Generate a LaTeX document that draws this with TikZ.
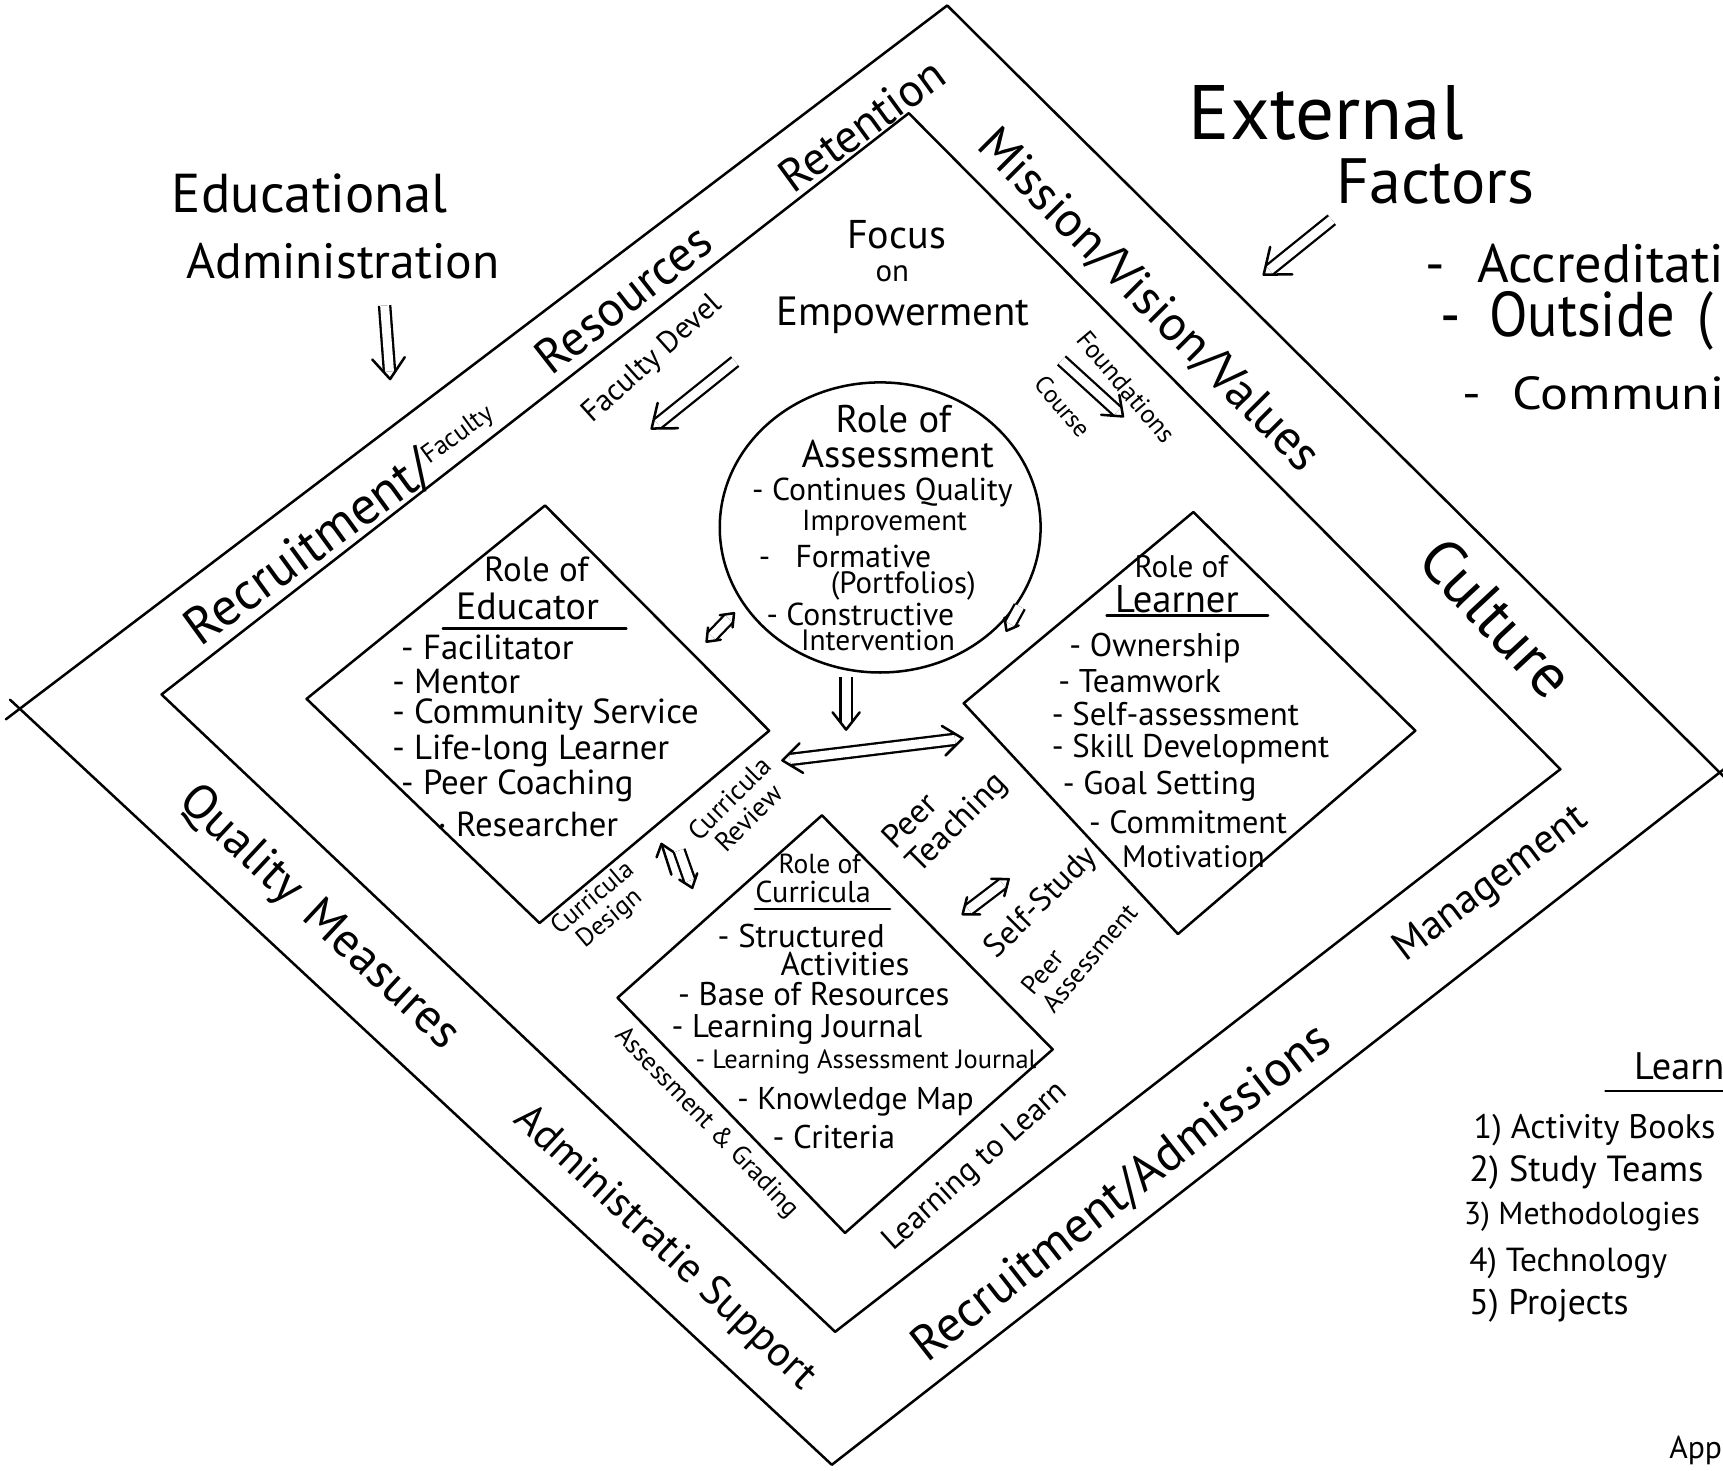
\documentclass[tikz,border=0pt]{standalone}
\usepackage{fontspec}
\setmainfont{PT Sans}
\usetikzlibrary{arrows.meta,calc,shapes.geometric}
\newsavebox\fbx
\newcommand\ft[3]{\sbox\fbx{\fontsize{#2}{#2}\selectfont #3}\ifdim\wd\fbx>#1mm\relax\resizebox{#1mm}{!}{\usebox\fbx}\else\usebox\fbx\fi}
\newcommand\tc[1]{\begin{tabular}{@{}c@{}}#1\end{tabular}}
\newcommand\tl[1]{\begin{tabular}{@{}l@{}}#1\end{tabular}}
% double-line arrow: from, to, head length
\newcommand\darr[3]{%
  \draw[double distance=2.3pt,line width=0.6pt,line cap=butt] (#1) -- ($(#2)!0.7mm!(#1)$);
  \draw ($(#2)!#3!38:(#1)$) -- (#2) -- ($(#2)!#3!-38:(#1)$);}
\newcommand\darrb[3]{%
  \draw[double distance=2.3pt,line width=0.6pt,line cap=butt] ($(#1)!0.7mm!(#2)$) -- ($(#2)!0.7mm!(#1)$);
  \draw ($(#2)!#3!38:(#1)$) -- (#2) -- ($(#2)!#3!-38:(#1)$);
  \draw ($(#1)!#3!38:(#2)$) -- (#1) -- ($(#1)!#3!-38:(#2)$);}
\begin{document}
\begin{tikzpicture}[x=0.1mm,y=-0.1mm,line width=0.65pt,line cap=round,line join=round]
\tikzset{
  lbl/.style={inner sep=0pt,anchor=center},
  itm/.style={inner sep=0pt,anchor=west},
}
\useasboundingbox (0,0) rectangle (1568,1338);
\fill[white] (0,0) rectangle (1568,1338);

% outer ring
\coordinate (T1) at (862,5);
\coordinate (R1) at (1565,703);
\coordinate (B1) at (757,1333);
\coordinate (L1) at (18,645);
\draw (T1) -- (R1) -- (B1) -- (L1) -- cycle;
\draw (L1) -- ($(T1)!1.015!(L1)$);
\draw (L1) -- ($(B1)!1.012!(L1)$);
\draw (R1) -- ($(T1)!1.01!(R1)$);
\draw (R1) -- ($(B1)!1.01!(R1)$);

% middle ring
\coordinate (T2) at (827,103);
\coordinate (R2) at (1420,700);
\coordinate (B2) at (760,1212);
\coordinate (L2) at (147,632);
\draw (T2) -- (R2) -- (B2) -- (L2) -- cycle;

% inner diamonds
\coordinate (ET) at (496,460);
\coordinate (ER) at (700,665);
\coordinate (EB) at (491,840);
\coordinate (EL) at (279,636);
\draw (ET) -- (ER) -- (EB) -- (EL) -- cycle;
\coordinate (LT) at (1086,466);
\coordinate (LR) at (1288,665);
\coordinate (LB) at (1072,850);
\coordinate (LL) at (877,640);
\draw (LT) -- (LR) -- (LB) -- (LL) -- cycle;
\coordinate (CT) at (748,742);
\coordinate (CR) at (958,955);
\coordinate (CB) at (769,1122);
\coordinate (CL) at (562,908);
\draw (CT) -- (CR) -- (CB) -- (CL) -- cycle;

% assessment circle
\node[draw,ellipse,minimum width=29.2mm,minimum height=26.4mm,inner sep=0pt] (circ) at (801,480) {};

% band labels
\node[lbl,rotate=36] (ret) at (784,114) {\ft{17.5}{16}{Retention}};
\node[lbl,rotate=36] (rec) at (312,478) {\ft{34}{16}{Recruitment/\raisebox{0.5ex}{\scalebox{0.5}{Faculty}}}};
\node[lbl,rotate=38] (res) at (567,272) {\ft{19}{16}{Resources}};
\node[lbl,rotate=-45] (mis) at (1045,274) {\ft{42}{16}{Mission/Vision/Values}};
\node[lbl,rotate=-47] (cul) at (1362,562) {\ft{19}{16}{Culture}};
\node[lbl,rotate=37] (man) at (1357,805) {\ft{21}{16}{Management}};
\node[lbl,rotate=38] (adm) at (1021,1086) {\ft{47}{16}{Recruitment/Admissions}};
\node[lbl,rotate=-43] (qua) at (290,836) {\ft{33}{16}{Quality\hspace{0.4em}Measures}};
\node[lbl,rotate=-43] (sup) at (605,1136) {\ft{36}{16}{Administratie Support}};

% focus
\node[lbl] (foc) at (816,214) {\ft{9}{12}{Focus}};
\node[lbl] (on) at (812,249) {\ft{3.4}{8}{on}};
\node[lbl] (emp) at (822,287) {\ft{23}{13}{Empowerment}};
\node[lbl,rotate=42] (fd) at (594,327) {\ft{16}{9}{Faculty Devel}};
\node[lbl,rotate=-50] (fo) at (1025,352) {\ft{12.5}{8}{Foundations}};
\node[lbl,rotate=-50] (co) at (967,370) {\ft{6.5}{8}{Course}};

% circle text
\node[lbl] (a1) at (813,381) {\ft{10.5}{11}{Role of}};
\node[lbl] (a2) at (817,413) {\ft{17.5}{11}{Assessment}};
\node[lbl] (a3) at (803,448) {\ft{24}{8.2}{- Continues Quality}};
\node[lbl] (a4) at (805,476) {\ft{15}{8.2}{Improvement}};
\node[lbl] (a5) at (769,506) {\ft{18}{8.2}{-\hspace{0.8em}Formative}};
\node[lbl] (a6) at (822,533) {\ft{15}{8}{(Portfolios)}};
\node[lbl] (a7) at (783,559) {\ft{19}{8.2}{- Constructive}};
\node[lbl] (a8) at (799,583) {\ft{14}{8}{Intervention}};

% educator
\node[lbl] (e1) at (488,518) {\ft{9.5}{10}{Role of}};
\node[lbl] (e2) at (480,552) {\ft{13}{10}{Educator}};
\draw (403,572) -- (570,572);
\node[itm] (e3) at (364,589) {\ft{18}{9}{- Facilitator}};
\node[itm] (e4) at (356,620) {\ft{13.5}{9}{- Mentor}};
\node[itm] (e5) at (356,650) {\ft{28.5}{9}{- Community Service}};
\node[itm] (e6) at (356,683) {\ft{27}{9}{- Life-long Learner}};
\node[itm] (e7) at (364,715) {\ft{22}{9}{- Peer Coaching}};
\node[itm] (e8) at (397,750) {\ft{18}{9}{· Researcher}};

% learner
\node[lbl] (l1) at (1075,516) {\ft{8.5}{8.5}{Role of}};
\node[lbl] (l2) at (1071,545) {\ft{11.5}{10}{Learner}};
\draw (1007,560) -- (1154,560);
\node[itm] (l3) at (972,590) {\ft{16.5}{8.5}{- Ownership}};
\node[itm] (l4) at (962,620) {\ft{16.5}{8.5}{- Teamwork}};
\node[itm] (l5) at (956,650) {\ft{23.5}{8.5}{- Self-assessment}};
\node[itm] (l6) at (956,682) {\ft{25.5}{8.5}{- Skill Development}};
\node[itm] (l7) at (966,716) {\ft{20}{8.5}{- Goal Setting}};
\node[itm] (l8) at (990,748) {\ft{18}{8.5}{- Commitment}};
\node[itm] (l9) at (1020,780) {\ft{13}{8.5}{Motivation}};

% curricula
\node[lbl] (c1) at (746,786) {\ft{7.5}{8}{Role of}};
\node[lbl] (c2) at (740,812) {\ft{10.5}{8.5}{Curricula}};
\draw (687,827) -- (810,827);
\node[itm] (c3) at (652,852) {\ft{17}{8.5}{- Structured}};
\node[lbl] (c4) at (769,877) {\ft{12.5}{8.5}{Activities}};
\node[itm] (c5) at (616,905) {\ft{26}{8.5}{- Base of Resources}};
\node[itm] (c6) at (610,937) {\ft{25.5}{8.5}{- Learning Journal}};
\node[itm] (c7) at (632,966) {\ft{31}{8.5}{- Learning Assessment Journal}};
\node[itm] (c8) at (670,1003) {\ft{21.5}{8.5}{- Knowledge Map}};
\node[itm] (c9) at (702,1035) {\ft{13}{8.5}{- Criteria}};

% diagonal small labels
\node[lbl,rotate=45] (cr) at (675,738) {\ft{9.5}{7.5}{\tc{Curricula\\Review}}};
\node[lbl,rotate=40] (cd) at (548,828) {\ft{9}{7.5}{\tc{Curricula\\Design}}};
\node[lbl,rotate=45] (pt) at (862,740) {\ft{11.5}{9}{\tl{Peer\\Teaching}}};
\node[lbl,rotate=45] (ss) at (948,822) {\ft{13}{9}{Self-Study}};
\node[lbl,rotate=50] (pa) at (985,866) {\ft{12}{8}{\tl{Peer\\Assessment}}};
\node[lbl,rotate=-46] (ag) at (643,1022) {\ft{23}{8.5}{Assessment \& Grading}};
\node[lbl,rotate=42] (ll) at (888,1062) {\ft{21.5}{8.5}{Learning to Learn}};

% outside texts
\node[lbl] (ed1) at (282,176) {\ft{25.1}{16}{Educational}};
\node[lbl] (ed2) at (312,238) {\ft{28.5}{16}{Administration}};
\node[lbl] (ex1) at (1207,103) {\ft{25}{20}{External}};
\node[lbl] (ex2) at (1306,165) {\ft{18}{18}{Factors}};
\node[itm] (x1) at (1296,240) {\resizebox{27.2mm}{3.5mm}{-\hspace{0.6em}Accreditati}};
\node[itm] (x2) at (1310,292) {\resizebox{24.8mm}{4.1mm}{-\hspace{0.5em}Outside\hspace{0.4em}(}};
\node[itm] (x3) at (1330,358) {\resizebox{23.8mm}{3.0mm}{-\hspace{0.6em}Communi}};
\node[itm] (lr) at (1486,970) {\ft{8.2}{12}{Learn}};
\draw (1461,993) -- (1568,993);
\node[itm] (r1) at (1340,1028) {\ft{22}{10}{1) Activity Books}};
\node[itm] (r2) at (1336,1067) {\ft{21.3}{10}{2) Study Teams}};
\node[itm] (r3) at (1331,1107) {\ft{21.5}{10}{3) Methodologies}};
\node[itm] (r4) at (1336,1150) {\ft{18}{10}{4) Technology}};
\node[itm] (r5) at (1336,1188) {\ft{14.5}{10}{5) Projects}};
\node[itm] (ap) at (1518,1320) {\ft{4.8}{10}{App}};

% arrows
\coordinate (ea1) at (350,278); \coordinate (ea2) at (355,345);
\darr{ea1}{ea2}{2.4mm}
\coordinate (xa1) at (1212,200); \coordinate (xa2) at (1150,250);
\darr{xa1}{xa2}{2.6mm}
\coordinate (fa1) at (669,329); \coordinate (fa2) at (593,390);
\darr{fa1}{fa2}{2.4mm}
\coordinate (fb1) at (966,328); \coordinate (fb2) at (1022,379);
\darr{fb1}{fb2}{2mm}
\coordinate (ca1) at (770,616); \coordinate (ca2) at (770,664);
\darr{ca1}{ca2}{2mm}
\coordinate (ha1) at (712,692); \coordinate (ha2) at (876,672);
\darrb{ha1}{ha2}{2.2mm}
\coordinate (sa1) at (643,584); \coordinate (sa2) at (668,558);
\darrb{sa1}{sa2}{1.3mm}
\coordinate (hk1) at (928,552); \coordinate (hk2) at (916,574);
\darr{hk1}{hk2}{1.2mm}
\coordinate (cu1) at (611,796); \coordinate (cu2) at (602,768);
\draw (cu1) -- (cu2);
\draw ($(cu2)!1.3mm!38:(cu1)$) -- (cu2) -- ($(cu2)!1.3mm!-38:(cu1)$);
\coordinate (cv1) at (618,774); \coordinate (cv2) at (630,808);
\darr{cv1}{cv2}{1.4mm}
\coordinate (st1) at (876,832); \coordinate (st2) at (918,800);
\darrb{st1}{st2}{1.6mm}
\end{tikzpicture}
\end{document}
